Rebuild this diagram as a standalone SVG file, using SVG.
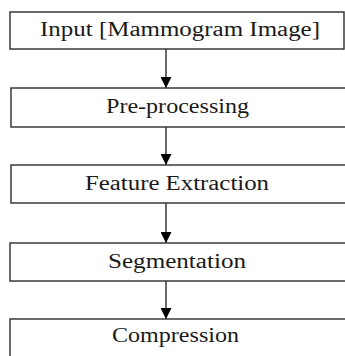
<svg xmlns="http://www.w3.org/2000/svg" width="345" height="356" viewBox="0 0 345 356">
<defs>
<style>
.box{fill:#ffffff;stroke:#3a3a3a;stroke-width:1.5}
.lbl{font-family:"Liberation Serif","Times New Roman",serif;font-size:20px;fill:#1a1a1a}
.edge{stroke:#1a1a1a;stroke-width:1.3;fill:none}
</style>
<marker id="ah" viewBox="0 0 10 10" refX="10" refY="5" markerWidth="11" markerHeight="11" markerUnits="userSpaceOnUse" orient="auto">
<path d="M0,0 L10,5 L0,10 z" fill="#000"/>
</marker>
</defs>
<rect width="345" height="356" fill="#ffffff"/>
<g id="connectors">
<line class="edge" x1="166" y1="49" x2="166" y2="88" marker-end="url(#ah)"/>
<line class="edge" x1="166" y1="127" x2="166" y2="165" marker-end="url(#ah)"/>
<line class="edge" x1="166" y1="203" x2="166" y2="243" marker-end="url(#ah)"/>
<line class="edge" x1="166" y1="281" x2="166" y2="319" marker-end="url(#ah)"/>
</g>
<g id="input">
<rect class="box" x="10" y="12" width="334" height="37"/>
<text class="lbl" x="40" y="36" textLength="280" lengthAdjust="spacingAndGlyphs">Input [Mammogram Image]</text>
</g>
<g id="preprocessing">
<rect class="box" x="11" y="88" width="340" height="39"/>
<text class="lbl" x="106" y="113" textLength="143" lengthAdjust="spacingAndGlyphs">Pre-processing</text>
</g>
<g id="feature-extraction">
<rect class="box" x="11" y="165" width="340" height="38"/>
<text class="lbl" x="85" y="190" textLength="184" lengthAdjust="spacingAndGlyphs">Feature Extraction</text>
</g>
<g id="segmentation">
<rect class="box" x="10" y="243" width="340" height="38"/>
<text class="lbl" x="108" y="268" textLength="138" lengthAdjust="spacingAndGlyphs">Segmentation</text>
</g>
<g id="compression">
<rect class="box" x="10" y="319" width="340" height="40"/>
<text class="lbl" x="112" y="342" textLength="127" lengthAdjust="spacingAndGlyphs">Compression</text>
</g>
</svg>
